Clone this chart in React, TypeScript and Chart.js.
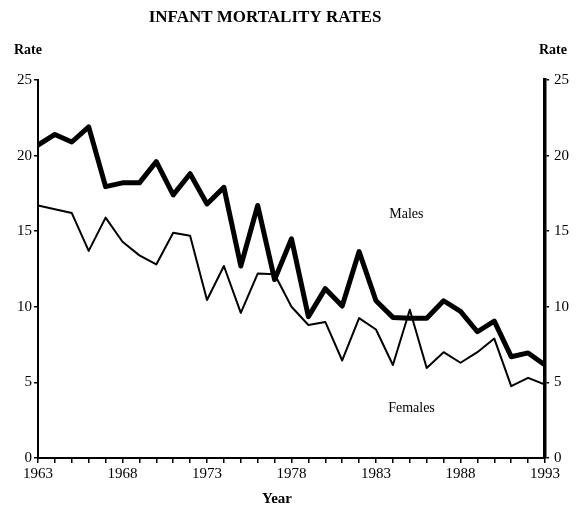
import React, { useEffect, useRef } from "react";
import { Chart, registerables } from "chart.js";

Chart.register(...registerables);

const years = [
  1963, 1964, 1965, 1966, 1967, 1968, 1969, 1970, 1971, 1972, 1973, 1974, 1975, 1976, 1977, 1978,
  1979, 1980, 1981, 1982, 1983, 1984, 1985, 1986, 1987, 1988, 1989, 1990, 1991, 1992, 1993,
];
const males = [
  20.7, 21.4, 20.9, 21.9, 17.95, 18.2, 18.2, 19.6, 17.4, 18.8, 16.8, 17.9, 12.7, 16.7, 11.8, 14.5,
  9.35, 11.2, 10.05, 13.65, 10.4, 9.3, 9.25, 9.25, 10.4, 9.7, 8.35, 9.05, 6.7, 6.95, 6.15,
];
const females = [
  16.7, 16.45, 16.2, 13.7, 15.9, 14.3, 13.4, 12.8, 14.9, 14.7, 10.45, 12.7, 9.6, 12.2, 12.15, 10.0,
  8.8, 9.0, 6.45, 9.25, 8.5, 6.15, 9.8, 5.95, 7.0, 6.3, 7.0, 7.9, 4.75, 5.3, 4.85,
];
const xLabelYears = [1963, 1968, 1973, 1978, 1983, 1988, 1993];
const yTickValues = [0, 5, 10, 15, 20, 25];
const seriesNames = ["Males", "Females"];
const seriesLabelYears = [1984.8, 1985.1];
const seriesLabelValues = [16.1, 3.3];
const titleText = "INFANT MORTALITY RATES";
const yAxisTitle = "Rate";
const xAxisTitle = "Year";

const FONT = "'Liberation Serif', 'Times New Roman', serif";

const textPlugin = {
  id: "textPlugin",
  afterDraw(chart: any) {
    const ctx = chart.ctx;
    const xs = chart.scales.x;
    const ys = chart.scales.y;
    ctx.save();
    ctx.fillStyle = "#000";
    ctx.textBaseline = "middle";
    ctx.textAlign = "center";
    ctx.font = `bold 17px ${FONT}`;
    ctx.fillText(titleText, 265, 18);
    ctx.font = `bold 14px ${FONT}`;
    ctx.fillText(yAxisTitle, 28, 50);
    ctx.fillText(yAxisTitle, 553, 50);
    ctx.font = `bold 15px ${FONT}`;
    ctx.fillText(xAxisTitle, 277, 499);
    ctx.font = `14px ${FONT}`;
    seriesNames.forEach((n, i) => {
      ctx.fillText(n, xs.getPixelForValue(seriesLabelYears[i]), ys.getPixelForValue(seriesLabelValues[i]));
    });
    ctx.restore();
  },
};

export default function App() {
  const ref = useRef<HTMLCanvasElement>(null);
  useEffect(() => {
    if (!ref.current) return;
    const chart = new Chart(ref.current, {
      type: "line",
      data: {
        datasets: [
          {
            label: seriesNames[0],
            data: years.map((y, i) => ({ x: y, y: males[i] })),
            borderColor: "#000",
            borderWidth: 5,
            pointRadius: 0,
            tension: 0,
            borderJoinStyle: "round",
            borderCapStyle: "round",
            yAxisID: "y",
          },
          {
            label: seriesNames[1],
            data: years.map((y, i) => ({ x: y, y: females[i] })),
            borderColor: "#000",
            borderWidth: 2,
            pointRadius: 0,
            tension: 0,
            borderJoinStyle: "round",
            yAxisID: "y",
          },
        ],
      },
      options: {
        responsive: false,
        animation: false,
        layout: { padding: { top: 80, left: 0, right: 0, bottom: 0 } },
        plugins: { legend: { display: false }, tooltip: { enabled: false }, title: { display: false } },
        scales: {
          x: {
            type: "linear",
            min: 1963,
            max: 1993,
            afterFit: (s: any) => {
              s.height = 48;
            },
            afterBuildTicks: (s: any) => {
              s.ticks = years.map((v) => ({ value: v }));
            },
            ticks: {
              autoSkip: false,
              maxRotation: 0,
              color: "#000",
              font: { family: FONT, size: 15 },
              padding: 2,
              callback: (v: any) => (xLabelYears.includes(Number(v)) ? String(v) : ""),
            },
            grid: { drawOnChartArea: false, drawTicks: true, tickLength: 5, color: "#000", lineWidth: 1.5 },
            border: { display: true, color: "#000", width: 2 },
          },
          y: {
            position: "left",
            min: 0,
            max: 25,
            afterFit: (s: any) => {
              s.width = 38;
            },
            afterBuildTicks: (s: any) => {
              s.ticks = yTickValues.map((v) => ({ value: v }));
            },
            ticks: { color: "#000", font: { family: FONT, size: 15 }, padding: 2 },
            grid: { drawOnChartArea: false, drawTicks: true, tickLength: 4, color: "#000", lineWidth: 1.5 },
            border: { display: true, color: "#000", width: 2 },
          },
          y2: {
            position: "right",
            min: 0,
            max: 25,
            afterFit: (s: any) => {
              s.width = 31;
            },
            afterBuildTicks: (s: any) => {
              s.ticks = yTickValues.map((v) => ({ value: v }));
            },
            ticks: { color: "#000", font: { family: FONT, size: 15 }, padding: 5 },
            grid: { drawOnChartArea: false, drawTicks: true, tickLength: 4, color: "#000", lineWidth: 1.5 },
            border: { display: true, color: "#000", width: 3.5 },
          },
        },
      },
      plugins: [textPlugin],
    } as any);
    return () => chart.destroy();
  }, []);
  return (
    <div style={{ position: "absolute", left: 0, top: 0, width: 576, height: 506, background: "#fff" }}>
      <canvas ref={ref} width={576} height={506} style={{ display: "block" }} />
    </div>
  );
}
